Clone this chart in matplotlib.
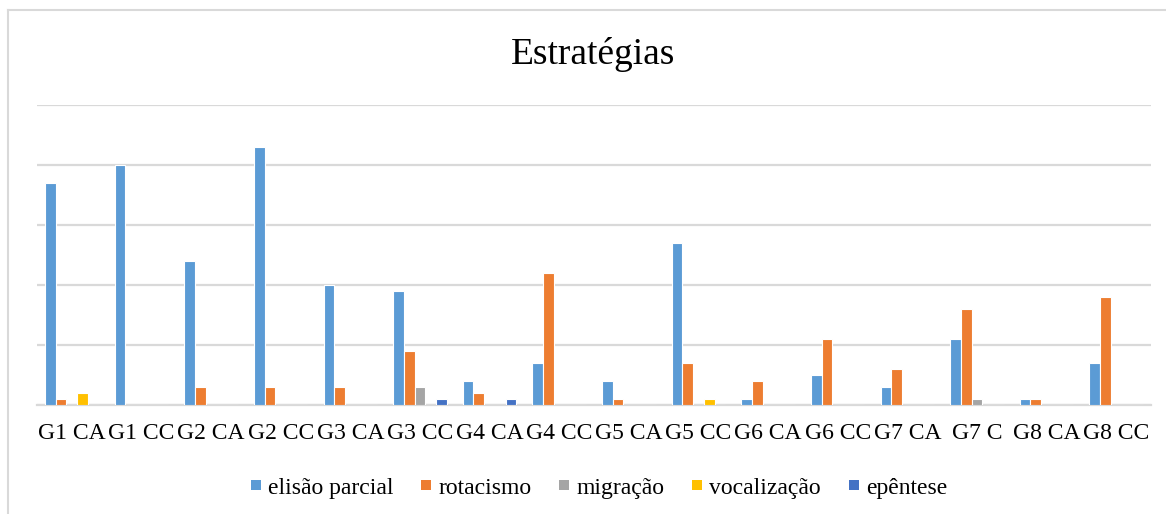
import numpy as np
import matplotlib.pyplot as plt
from matplotlib.lines import Line2D
from matplotlib.patches import Rectangle

groups = ['G1 CA', 'G1 CC', 'G2 CA', 'G2 CC', 'G3 CA', 'G3 CC', 'G4 CA', 'G4 CC',
          'G5 CA', 'G5 CC', 'G6 CA', 'G6 CC', 'G7 CA', 'G7 C', 'G8 CA', 'G8 CC']
elisao = [37, 40, 24, 43, 20, 19, 4, 7, 4, 27, 1, 5, 3, 11, 1, 7]
rotacismo = [1, 0, 3, 3, 3, 9, 2, 22, 1, 7, 4, 11, 6, 16, 1, 18]
migracao = [0, 0, 0, 0, 0, 3, 0, 0, 0, 0, 0, 0, 0, 1, 0, 0]
vocalizacao = [2, 0, 0, 0, 0, 0, 0, 0, 0, 1, 0, 0, 0, 0, 0, 0]
epentese = [0, 0, 0, 0, 0, 1, 1, 0, 0, 0, 0, 0, 0, 0, 0, 0]

series = [
    ('elisão parcial', elisao, '#5B9BD5'),
    ('rotacismo', rotacismo, '#ED7D31'),
    ('migração', migracao, '#A5A5A5'),
    ('vocalização', vocalizacao, '#FFC000'),
    ('epêntese', epentese, '#4472C4'),
]

plt.rcParams['font.family'] = ['Liberation Serif', 'DejaVu Serif']

W, H = 1166, 514
fig = plt.figure(figsize=(W / 100, H / 100), dpi=100)
ax = fig.add_axes([37 / W, (H - 405) / H, 1114 / W, 300 / H])

x = np.arange(len(groups))
slot = 0.154
for i, (name, vals, col) in enumerate(series):
    ax.bar(x + (i - 2) * slot, vals, width=slot, color=col, label=name,
           edgecolor='white', linewidth=0.8, zorder=3)

ax.set_xlim(-0.5, len(groups) - 0.5)
ax.set_ylim(0, 50)
ax.set_yticks(np.arange(0, 51, 10))
ax.set_yticklabels([])
ax.grid(axis='y', color='#D9D9D9', linewidth=1.6, zorder=0)
ax.tick_params(axis='y', length=0)
ax.set_xticks(x, groups, fontsize=17)
ax.tick_params(axis='x', length=0, pad=13)
for s in ['top', 'right', 'left']:
    ax.spines[s].set_visible(False)
ax.spines['bottom'].set_color('#D9D9D9')
ax.spines['bottom'].set_linewidth(1.6)

fig.text(0.509, (H - 64) / H, 'Estratégias', ha='center', va='baseline', fontsize=27)

# legend row laid out by hand so every label sits on the same baseline
renderer = fig.canvas.get_renderer()
box, pad, gap = 10, 7, 28
texts = []
widths = []
for name, _, col in series:
    t = fig.text(0, (H - 494) / H, name, fontsize=17, va='baseline', ha='left')
    texts.append(t)
    widths.append(t.get_window_extent(renderer).width)
total = sum(box + pad + w for w in widths) + gap * (len(series) - 1)
cur = 599 - total / 2
for (name, _, col), t, w in zip(series, texts, widths):
    fig.add_artist(Rectangle((cur / W, (H - 490) / H), box / W, box / H,
                             facecolor=col, edgecolor='none', transform=fig.transFigure))
    t.set_x((cur + box + pad) / W)
    cur += box + pad + w + gap

# chart area border (top and left edges)
fig.add_artist(Line2D([7.5 / W, 7.5 / W], [0, (H - 9.5) / H], color='#D9D9D9', lw=1.5))
fig.add_artist(Line2D([7.5 / W, 1], [(H - 9.5) / H, (H - 9.5) / H], color='#D9D9D9', lw=1.5))

fig.savefig('out.png', dpi=100, facecolor='white')
